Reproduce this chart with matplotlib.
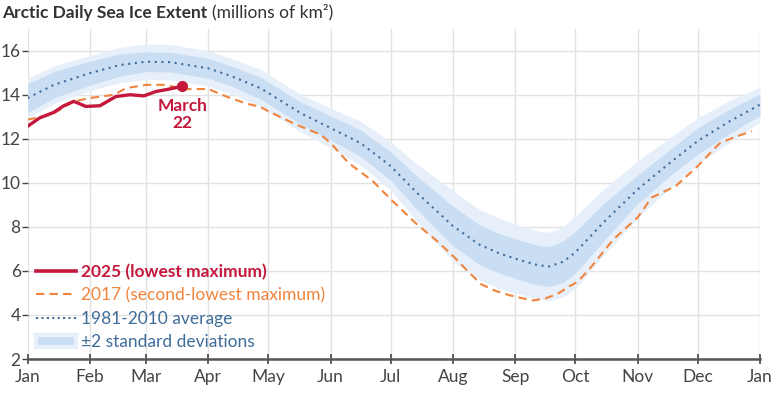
import matplotlib
matplotlib.use('Agg')
import matplotlib.pyplot as plt
import numpy as np
from matplotlib.patches import Patch
from matplotlib.lines import Line2D

plt.rcParams['font.family'] = ['Lato', 'DejaVu Sans']

# day of year (Jan 1 = 0) for month ticks
month_days = [0, 31, 59, 90, 120, 151, 181, 212, 243, 273, 304, 334, 365]
month_labels = ['Jan', 'Feb', 'Mar', 'Apr', 'May', 'Jun', 'Jul', 'Aug', 'Sep', 'Oct', 'Nov', 'Dec', 'Jan']

# 1981-2010 average and band half-widths
avg_days = [0, 13, 31, 46, 59, 71, 90, 102, 116, 120, 136, 151, 166, 181, 194, 212,
            225, 235, 245, 254, 260, 267, 273, 287, 304, 320, 334, 350, 365]
avg_ext = [13.85, 14.45, 14.98, 15.35, 15.5, 15.48, 15.2, 14.83, 14.3, 14.08, 13.17, 12.49,
           11.8, 10.76, 9.55, 8.04, 7.2, 6.8, 6.5, 6.27, 6.2, 6.42, 6.84, 8.2, 9.7, 10.9,
           11.9, 12.8, 13.55]
inner_hw = [0.65, 0.6, 0.55, 0.5, 0.45, 0.45, 0.45, 0.45, 0.5, 0.5, 0.5, 0.55, 0.6, 0.65,
            0.75, 0.9, 0.9, 0.9, 0.9, 0.9, 0.9, 0.95, 0.95, 0.85, 0.65, 0.6, 0.6, 0.55, 0.5]
outer_hw = [0.9, 0.85, 0.8, 0.8, 0.8, 0.8, 0.8, 0.8, 0.85, 0.85, 0.85, 0.9, 1.0, 1.1,
            1.3, 1.6, 1.6, 1.6, 1.55, 1.55, 1.55, 1.6, 1.65, 1.5, 1.3, 1.15, 1.05, 0.95, 0.8]

# 2017
y17_days = [0, 12, 23, 31, 43, 49, 59, 68, 79, 90, 99, 109, 116, 120, 134, 146, 151, 160,
            172, 181, 194, 204, 212, 220, 226, 233, 240, 247, 252, 258, 264, 270, 274, 280,
            292, 304, 311, 323, 334, 341, 345, 353, 361]
y17_ext = [12.87, 13.1, 13.7, 13.85, 14.0, 14.3, 14.45, 14.45, 14.26, 14.26, 13.92, 13.6,
           13.45, 13.25, 12.64, 12.19, 11.81, 10.9, 10.08, 9.25, 8.12, 7.36, 6.68, 5.93,
           5.4, 5.1, 4.9, 4.75, 4.66, 4.75, 4.95, 5.3, 5.5, 6.08, 7.44, 8.42, 9.33, 9.85,
           10.76, 11.43, 11.8, 12.1, 12.34]

# 2025
y25_days = [0, 6, 13, 18, 23, 29, 36, 44, 51, 58, 64, 69, 77]
y25_ext = [12.57, 12.95, 13.2, 13.5, 13.7, 13.47, 13.5, 13.92, 14.0, 13.95, 14.15, 14.23, 14.38]

red = '#c4183c'
orange = '#f0843c'
blue = '#3f6d9a'
inner_c = '#cadef3'
outer_c = '#e7f0fa'

fig = plt.figure(figsize=(7.77, 3.93), dpi=100)
ax = fig.add_axes([0.0356, 0.0865, 0.9424, 0.8405])

avg = np.array(avg_ext)
ax.fill_between(avg_days, avg - np.array(outer_hw), avg + np.array(outer_hw),
                color=outer_c, lw=0, zorder=1)
ax.fill_between(avg_days, avg - np.array(inner_hw), avg + np.array(inner_hw),
                color=inner_c, lw=0, zorder=2)
ax.plot(avg_days, avg_ext, color=blue, lw=1.5, linestyle=(0, (1, 2.2)), zorder=3)
ax.plot(y17_days, y17_ext, color=orange, lw=1.5, linestyle=(0, (4, 2.5)), zorder=4)
ax.plot(y25_days, y25_ext, color=red, lw=2.4, zorder=5, solid_capstyle='round')
ax.plot(y25_days[-1], y25_ext[-1], 'o', color=red, ms=7, zorder=6)
ax.text(y25_days[-1], 13.85, 'March\n22', color=red, fontsize=12.5, fontweight='bold',
        ha='center', va='top', linespacing=1.1)

ax.set_xlim(0, 365)
ax.set_ylim(2, 17)
ax.set_xticks(month_days)
ax.set_xticklabels(month_labels)
ax.set_yticks([2, 4, 6, 8, 10, 12, 14, 16])
ax.grid(True, color='#e2e2e2', lw=1, zorder=0)
ax.set_axisbelow(True)
for s in ['top', 'right', 'left']:
    ax.spines[s].set_visible(False)
ax.spines['bottom'].set_color('#555555')
ax.spines['bottom'].set_linewidth(1.8)
ax.tick_params(axis='x', direction='inout', length=7, width=1.2, color='#444444',
               labelsize=12.5, labelcolor='#444444', pad=4)
ax.tick_params(axis='y', direction='out', length=4, width=1, color='#444444',
               labelsize=12.5, labelcolor='#444444', pad=1)

handles = [
    Line2D([], [], color=red, lw=2.6),
    Line2D([], [], color=orange, lw=1.5, linestyle=(0, (4, 2.5))),
    Line2D([], [], color=blue, lw=1.5, linestyle=(0, (1, 1.6))),
    Patch(facecolor=inner_c, edgecolor=outer_c, lw=3),
]
labels = ['2025 (lowest maximum)', '2017 (second-lowest maximum)',
          '1981-2010 average', '±2 standard deviations']
leg = ax.legend(handles, labels, loc='upper left', bbox_to_anchor=(0.0, 0.315),
                frameon=False, fontsize=12.5, handlelength=2.3, handletextpad=0.3,
                labelspacing=0.42, borderaxespad=0.3, borderpad=0.2)
for t, c in zip(leg.get_texts(), [red, orange, blue, blue]):
    t.set_color(c)
leg.get_texts()[0].set_fontweight('bold')

t1 = fig.text(0.003, 0.968, 'Arctic Daily Sea Ice Extent', fontsize=12.5, fontweight='bold',
              color='#333333', va='center', ha='left')
fig.canvas.draw()
bb = t1.get_window_extent()
x1 = fig.transFigure.inverted().transform((bb.x1, bb.y0))[0]
fig.text(x1 + 0.006, 0.968, '(millions of km²)', fontsize=12.5, color='#333333',
         va='center', ha='left')

fig.savefig('out.png', dpi=100)
